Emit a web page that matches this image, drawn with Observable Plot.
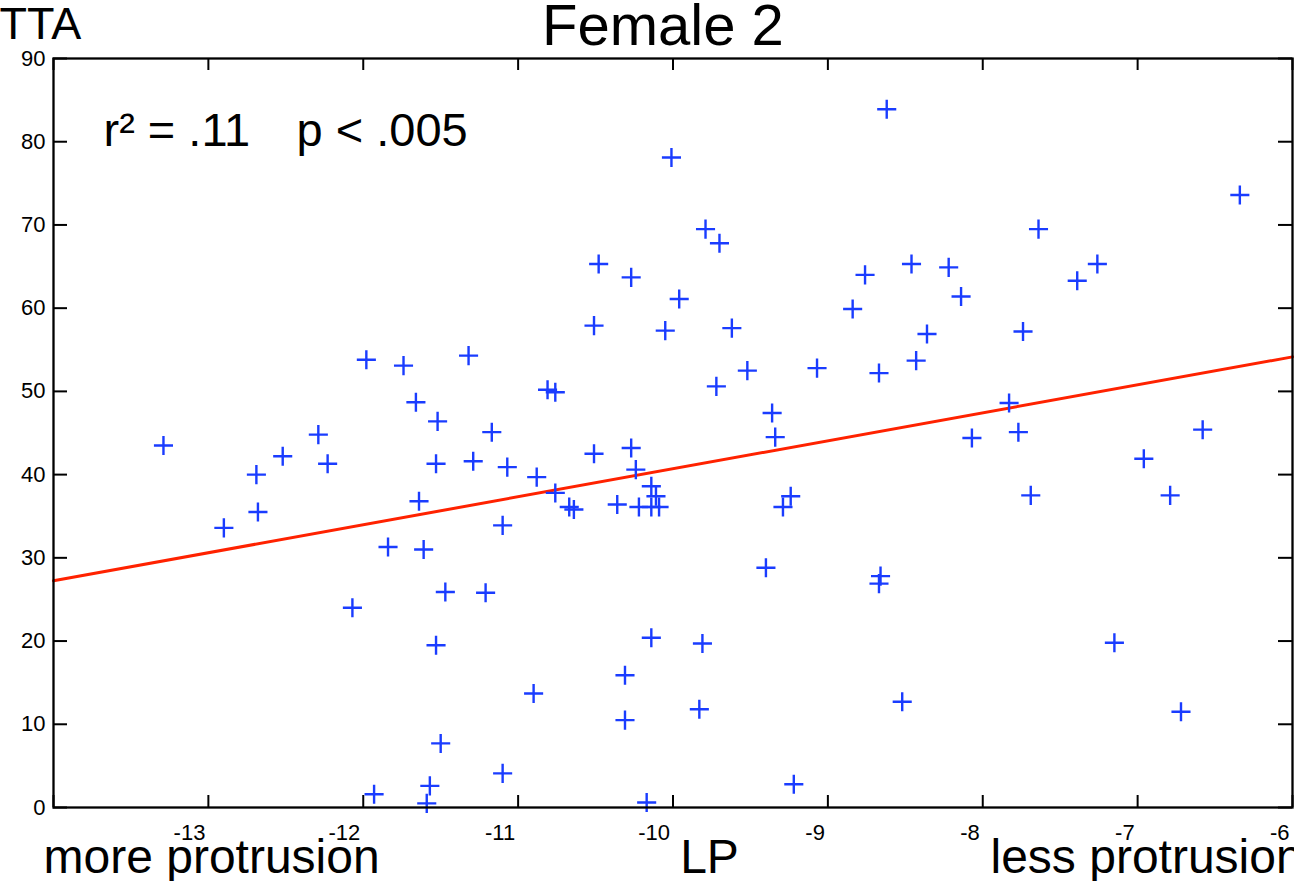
<!DOCTYPE html>
<html>
<head>
<meta charset="utf-8">
<script src="https://cdn.jsdelivr.net/npm/d3@7"></script>
<script src="https://cdn.jsdelivr.net/npm/@observablehq/plot@0.6"></script>
<style>
  html, body { margin: 0; padding: 0; background: #fff; overflow: hidden; }
  #chart svg { display: block; overflow: visible; }
</style>
</head>
<body>
<div id="chart"></div>
<script>
// LP (x) values of each subject
const lp = [-13.29,-12.90,-12.69,-12.68,-12.52,-12.29,-12.23,-12.07,-11.98,-11.93,
  -11.84,-11.74,-11.66,-11.64,-11.61,-11.59,-11.57,-11.52,-11.53,-11.53,
  -11.50,-11.47,-11.32,-11.29,-11.21,-11.17,-11.10,-11.10,-11.07,-10.90,
  -10.88,-10.81,-10.76,-10.76,-10.67,-10.64,-10.51,-10.48,-10.51,-10.36,
  -10.31,-10.31,-10.27,-10.27,-10.24,-10.22,-10.17,-10.14,-10.14,-10.14,
  -10.11,-10.09,-10.05,-10.01,-9.96,-9.83,-9.81,-9.79,-9.72,-9.70,
  -9.62,-9.52,-9.40,-9.36,-9.34,-9.29,-9.24,-9.22,-9.07,-8.84,
  -8.76,-8.67,-8.66,-8.67,-8.62,-8.52,-8.46,-8.43,-8.36,-8.22,
  -8.14,-8.07,-7.83,-7.77,-7.74,-7.69,-7.64,-7.39,-7.26,-7.15,
  -6.96,-6.79,-6.72,-6.58,-6.34];
// TTA (y) values of each subject
const tta = [43.5,33.6,40.0,35.5,42.2,44.8,41.3,24.0,53.8,1.6,
  31.3,53.1,48.7,36.8,31.0,0.5,2.6,46.4,41.3,19.5,
  7.7,25.9,54.3,41.6,25.8,45.1,4.1,33.9,40.9,13.7,
  39.7,50.2,49.9,37.8,36.1,35.8,57.9,65.3,42.5,36.4,
  15.9,10.5,63.7,43.2,40.6,36.1,0.6,38.6,36.1,20.4,
  37.4,36.1,57.3,78.1,61.1,11.8,19.7,69.5,50.6,67.8,
  57.6,52.5,28.8,47.4,44.5,36.1,37.4,2.8,52.8,59.9,
  64.0,52.2,27.8,26.9,83.9,12.7,65.3,53.7,56.9,64.9,
  61.4,44.4,48.6,45.1,57.2,37.5,69.5,63.3,65.3,19.8,
  41.9,37.5,11.5,45.4,73.6];
// regression line end points
const fitX = [-14, -6];
const fitY = [27.25, 54.15];
// tick values
const xTickLabels = [-13, -12, -11, -10, -9, -8, -7, -6];
const xTickMarks = [-14, -13, -12, -11, -10, -9, -8, -7, -6];
const yTicks = [0, 10, 20, 30, 40, 50, 60, 70, 80, 90];
// texts
const titleText = "Female 2";
const yTitle = "TTA";
const xTitle = "LP";
const leftNote = "more protrusion";
const rightNote = "less protrusion";
const statR = "r\u00b2 = .11";
const statP = "p < .005";

const W = 1294, H = 881;
const mL = 53, mR = 2, mT = 58, mB = 74;
const pw = W - mL - mR, ph = H - mT - mB;
const yTick = 14, xTick = 12;

const points = lp.map((x, i) => ({x, y: tta[i]}));
const fit = fitX.map((x, i) => ({x, y: fitY[i]}));

const black = "#000";
const font = "'Liberation Sans', Helvetica, Arial, sans-serif";

const chart = Plot.plot({
  width: W, height: H,
  marginLeft: mL, marginRight: mR, marginTop: mT, marginBottom: mB,
  style: {fontFamily: font, background: "#fff", color: black, overflow: "visible"},
  x: {domain: [-14, -6], label: null},
  y: {domain: [0, 90], label: null},
  marks: [
    // inward ticks: left/right
    Plot.tickY(yTicks, {y: d => d, insetRight: pw - yTick, stroke: black, strokeWidth: 2}),
    Plot.tickY(yTicks, {y: d => d, insetLeft: pw - yTick, stroke: black, strokeWidth: 2}),
    // inward ticks: bottom/top
    Plot.tickX(xTickMarks, {x: d => d, insetTop: ph - xTick, stroke: black, strokeWidth: 2}),
    Plot.tickX(xTickMarks, {x: d => d, insetBottom: ph - xTick, stroke: black, strokeWidth: 2}),
    Plot.axisY({ticks: yTicks, tickSize: 0, tickPadding: 8, fontSize: 22, label: null, tickFormat: d => String(d)}),
    Plot.axisX({ticks: xTickLabels, tickSize: 0, tickPadding: 17, fontSize: 22, textAnchor: "end", dx: -3, label: null, tickFormat: d => String(d)}),
    Plot.line(fit, {x: "x", y: "y", stroke: "#ff2200", strokeWidth: 3}),
    Plot.dot(points, {x: "x", y: "y", symbol: "plus", r: 6.2, stroke: "#1a3cff", strokeWidth: 2.4}),
    Plot.frame({stroke: black, strokeWidth: 2.3}),
    // texts
    Plot.text([titleText], {text: d => d, frameAnchor: "top", dx: -10, dy: -14, lineAnchor: "bottom", fontSize: 58, fill: black}),
    Plot.text([yTitle], {text: d => d, frameAnchor: "top-left", dx: -54, dy: -20, textAnchor: "start", lineAnchor: "bottom", fontSize: 45, fill: black}),
    Plot.text([statR], {text: d => d, frameAnchor: "top-left", dx: 50, dy: 87, textAnchor: "start", lineAnchor: "bottom", fontSize: 47, fill: black}),
    Plot.text([statP], {text: d => d, frameAnchor: "top-left", dx: 243, dy: 87, textAnchor: "start", lineAnchor: "bottom", fontSize: 47, fill: black}),
    Plot.text([leftNote], {text: d => d, frameAnchor: "bottom-left", dx: -10, dy: 65, textAnchor: "start", lineAnchor: "bottom", fontSize: 48, fill: black}),
    Plot.text([xTitle], {text: d => d, frameAnchor: "bottom", dx: 36.5, dy: 65, textAnchor: "middle", lineAnchor: "bottom", fontSize: 48, fill: black}),
    Plot.text([rightNote], {text: d => d, frameAnchor: "bottom-left", dx: 937, dy: 65, textAnchor: "start", lineAnchor: "bottom", fontSize: 48, fill: black})
  ]
});
document.getElementById("chart").appendChild(chart);
</script>
</body>
</html>
